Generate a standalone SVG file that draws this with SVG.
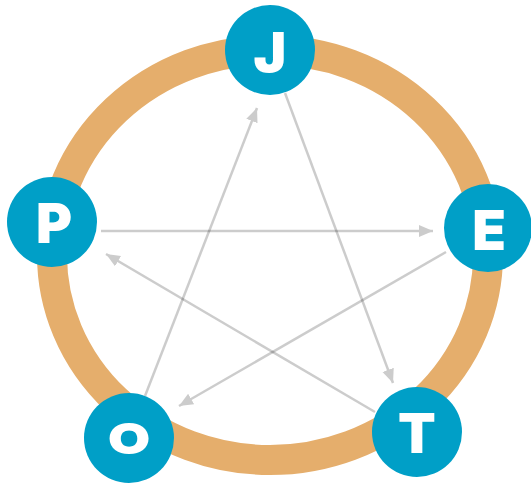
<svg xmlns="http://www.w3.org/2000/svg" width="531" height="499" viewBox="0 0 531 499">
<style>
.ring{fill:none;stroke:#E5AE6C;stroke-width:30}
.edge{stroke:#000;stroke-opacity:0.2;stroke-width:2.5;fill:none}
.node circle{fill:#009FC7}
.node text{fill:#fff;font-family:Inter,"Open Sans","Liberation Sans",sans-serif;font-weight:900;font-size:55px;text-anchor:middle}
</style>
<defs>
<marker id="ah" markerUnits="userSpaceOnUse" markerWidth="15" markerHeight="13" refX="14" refY="6" orient="auto" viewBox="0 0 15 13">
<path d="M0,0 L14,6 L0,12 Z" fill="#cccccc"/>
</marker>
</defs>
<ellipse class="ring" cx="270" cy="255" rx="218" ry="205"/>
<g id="connectors">
<line class="edge" x1="285" y1="93" x2="393" y2="383" marker-end="url(#ah)"/>
<line class="edge" x1="145" y1="396" x2="257" y2="108" marker-end="url(#ah)"/>
<line class="edge" x1="101" y1="231" x2="433" y2="231" marker-end="url(#ah)"/>
<line class="edge" x1="446" y1="252" x2="179" y2="406" marker-end="url(#ah)"/>
<line class="edge" x1="375" y1="412" x2="106" y2="254" marker-end="url(#ah)"/>
</g>
<g id="node-J" class="node"><circle cx="270" cy="50" r="45"/><text x="270" y="72">J</text></g>
<g id="node-E" class="node"><circle cx="488" cy="228" r="44"/><text x="489" y="250">E</text></g>
<g id="node-T" class="node"><circle cx="417" cy="432" r="45"/><text x="417" y="453">T</text></g>
<g id="node-O" class="node"><circle cx="129" cy="438" r="45"/><text x="0" y="0" transform="translate(129 454) scale(1 0.78)">O</text></g>
<g id="node-P" class="node"><circle cx="52" cy="222" r="45"/><text x="54" y="243">P</text></g>
</svg>
